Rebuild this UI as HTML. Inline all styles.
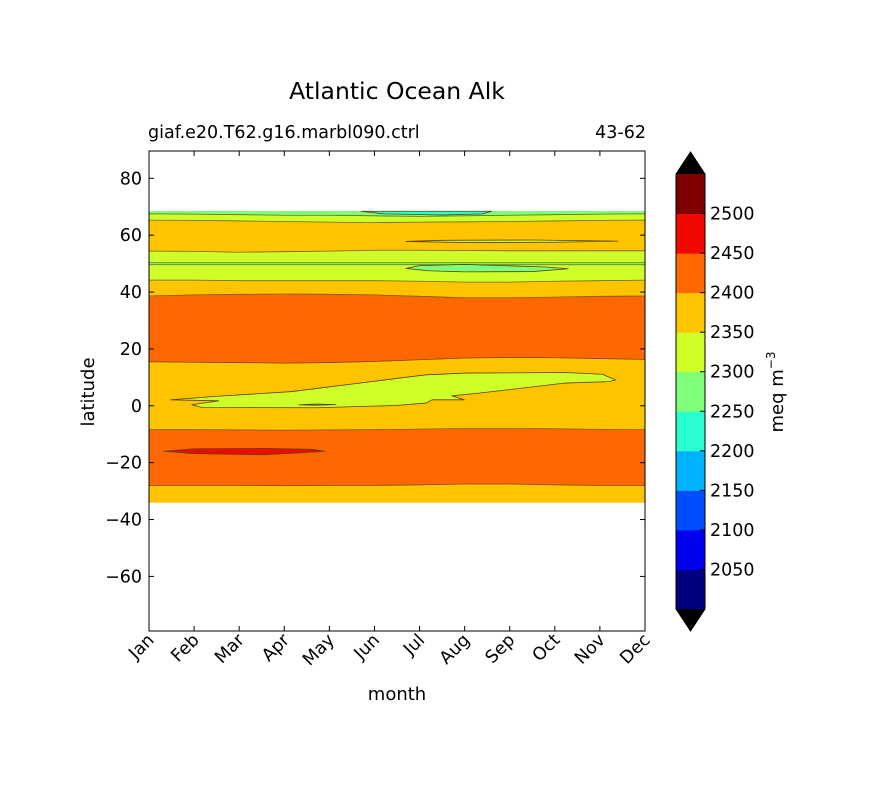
<!DOCTYPE html>
<html><head><meta charset="utf-8"><style>
body{margin:0;background:#fff;}
svg text{font-family:"DejaVu Sans","Liberation Sans",sans-serif;fill:#000;}
</style></head><body>
<svg id="chart" width="870" height="783" xmlns="http://www.w3.org/2000/svg">
<rect width="870" height="783" fill="#fff"/>
<text x="397" y="99" font-size="23.5" text-anchor="middle">Atlantic Ocean Alk</text>
<text x="148" y="138" font-size="17.5">giaf.e20.T62.g16.marbl090.ctrl</text>
<text x="646" y="138" font-size="17.5" text-anchor="end">43-62</text>
<g id="plot"></g>
<g id="axes"></g>
<g id="cbar"></g>
<text x="397" y="700" font-size="18" text-anchor="middle">month</text>
<text transform="translate(94,392) rotate(-90)" font-size="18" text-anchor="middle">latitude</text>
<text transform="translate(783,392) rotate(-90)" font-size="18" text-anchor="middle">meq m<tspan font-size="12" dy="-8">−3</tspan></text>
</svg>
<script>
const months=["Jan","Feb","Mar","Apr","May","Jun","Jul","Aug","Sep","Oct","Nov","Dec"];
const latTicks=[-60,-40,-20,0,20,40,60,80];
const levels=[2000,2050,2100,2150,2200,2250,2300,2350,2400,2450,2500,2550];
const levelColors=["#00007f","#0000f1","#004dff","#00b1ff","#29ffce","#7dff7a","#ceff29","#ffc400","#ff6800","#f10800","#7f0000"];
const bSouth=[-34,-34,-34,-34,-34,-34,-34,-34,-34,-34,-34,-34];
const b2=[-28,-28,-28,-28.1,-28,-28,-27.8,-27.5,-27.5,-27.8,-28,-28];
const b3=[-8.4,-8.4,-8.5,-8.6,-8.5,-8.4,-8.2,-8,-8,-8.1,-8.3,-8.4];
const b4=[15.5,15.3,15.2,15,15.2,15.6,16.2,16.8,17,16.9,16.6,16.3];
const b5=[38.6,39,39.2,39.3,39.2,39,38.5,38,38,38.2,38.5,38.6];
const b6=[44.2,44.2,44,44,44,44,43.8,43.5,43.5,43.8,44,44.2];
const b7=[49.6,49.6,49.6,49.6,49.6,49.6,49.6,49.6,49.6,49.6,49.6,49.6];
const b8=[50.3,50.3,50.3,50.3,50.3,50.3,50.3,50.3,50.3,50.3,50.3,50.3];
const b9=[54.4,54.3,54,54.2,54.4,54.7,54.7,54.6,54.5,54.5,54.5,54.5];
const b10=[65.3,65.2,65,64.8,64.6,64.4,64.6,64.7,64.8,65,65.2,65.3];
const b11=[67.5,67.4,67.2,67,67,66.8,66.6,66.8,67,67.2,67.4,67.5];
const bNorth=[68.4,68.4,68.4,68.4,68.4,68.4,68.4,68.4,68.4,68.4,68.4,68.4];
const bandEdges=[bSouth,b2,b3,b4,b5,b6,b7,b8,b9,b10,b11,bNorth];
const bandLevels=[7,8,7,8,7,6,5,6,7,6,5];
const limeBlobM=[0.48,1.55,0.95,1.18,3.7,5.47,6.14,6.28,6.99,6.72,7.32,9.24,10.2,10.35,10.05,9.24,7.02,6.14,3.17,1.48];
const limeBlobL=[2.1,1.75,0.35,-0.6,-0.7,0.1,0.95,2.1,2.1,3.5,4.45,8,8.5,9.1,11.1,11.7,11.5,10.9,5,3.3];
const redBlobM=[0.33,1,2.5,3.6,3.9,3.3,2.5,1];
const redBlobL=[-16,-15.1,-15,-15.3,-16,-16.6,-17.2,-16.8];
const greenLensM=[3.33,3.7,4.15,3.7];
const greenLensL=[0.35,0.6,0.4,0.2];
const green48M=[5.7,6.2,7,8.5,9.3,8.8,7,6];
const green48L=[48.3,47.5,47.1,47.2,48.2,48.8,49.7,49.3];
const lime58M=[5.7,6.5,8.5,10.4,9,7];
const lime58L=[57.8,58.2,58.3,57.9,57.5,57.4];
const cyanM=[4.7,5.2,6.5,7.4,7.6];
const cyanL=[68.4,67.5,67.1,67.5,68.4];
const blobs=[[limeBlobM,limeBlobL,6],[redBlobM,redBlobL,9],[greenLensM,greenLensL,5],[green48M,green48L,5],[lime58M,lime58L,6],[cyanM,cyanL,4]];

const X0=149,X1=645,Y0=151,Y1=631,LATMIN=-79.2,LATMAX=89.6;
const xs=m=>X0+m*(X1-X0)/11;
const ys=l=>Y1-(l-LATMIN)*(Y1-Y0)/(LATMAX-LATMIN);
const NS="http://www.w3.org/2000/svg";
function mk(t,a,p){const e=document.createElementNS(NS,t);for(const k in a)e.setAttribute(k,a[k]);p.appendChild(e);return e;}
const plot=document.getElementById('plot');
bandLevels.forEach((lv,i)=>{
  const lo=bandEdges[i],hi=bandEdges[i+1];
  let pts=[];
  for(let m=0;m<12;m++)pts.push(xs(m)+','+ys(lo[m]));
  for(let m=11;m>=0;m--)pts.push(xs(m)+','+ys(hi[m]));
  const p=mk('polygon',{points:pts.join(' '),fill:levelColors[lv],stroke:levelColors[lv],'stroke-width':0.6},plot);
  
  
});
bandEdges.forEach((e,i)=>{
  if(i===0||i===bandEdges.length-1)return;
  let pts=[];for(let m=0;m<12;m++)pts.push(xs(m)+','+ys(e[m]));
  const l=mk('polyline',{points:pts.join(' '),fill:'none',stroke:'#5a4000','stroke-width':0.8,'stroke-opacity':0.8},plot);
  
  
});
blobs.forEach((b,i)=>{
  const pts=b[0].map((m,j)=>xs(m)+','+ys(b[1][j])).join(' ');
  const p=mk('polygon',{points:pts,fill:levelColors[b[2]],stroke:'#5a4000','stroke-width':0.8,'stroke-linejoin':'round'},plot);
  
  
});
const axes=document.getElementById('axes');
const fr=mk('rect',{x:X0,y:Y0,width:X1-X0,height:Y1-Y0,fill:'none',stroke:'#000','stroke-width':1},axes);


latTicks.forEach(t=>{
  const y=ys(t);
  mk('line',{x1:X0,x2:X0+5,y1:y,y2:y,stroke:'#000'},axes);
  mk('line',{x1:X1,x2:X1-5,y1:y,y2:y,stroke:'#000'},axes);
  const tx=mk('text',{x:X0-7,y:y+6,'font-size':17.5,'text-anchor':'end'},axes);
  tx.textContent=(t<0?'−':'')+Math.abs(t);
  
  
});
months.forEach((mo,m)=>{
  const x=xs(m);
  mk('line',{x1:x,x2:x,y1:Y1,y2:Y1-5,stroke:'#000'},axes);
  mk('line',{x1:x,x2:x,y1:Y0,y2:Y0+5,stroke:'#000'},axes);
  const tx=mk('text',{transform:`translate(${x+6},${Y1+10}) rotate(-45)`,'font-size':17.5,'text-anchor':'end'},axes);
  tx.textContent=mo;
  
  
});
const cb=document.getElementById('cbar');
const CX=676,CW=29,CT=174,CB=609;
const cy=v=>CB-(v-levels[0])*(CB-CT)/(levels[levels.length-1]-levels[0]);
levelColors.forEach((c,i)=>{
  const r=mk('rect',{x:CX,y:cy(levels[i+1]),width:CW,height:cy(levels[i])-cy(levels[i+1])+0.5,fill:c},cb);
  
  
});
const tu=mk('polygon',{points:`${CX},${CT} ${CX+CW},${CT} ${CX+CW/2},${152}`,fill:'#000'},cb);


const td=mk('polygon',{points:`${CX},${CB} ${CX+CW},${CB} ${CX+CW/2},${631}`,fill:'#000'},cb);


mk('polygon',{points:`${CX+CW/2},152 ${CX+CW},${CT} ${CX+CW},${CB} ${CX+CW/2},631 ${CX},${CB} ${CX},${CT}`,fill:'none',stroke:'#000'},cb);
levels.forEach(v=>{
  if(v===2000||v===2550)return;
  const y=cy(v);
  mk('line',{x1:CX+CW-5,x2:CX+CW,y1:y,y2:y,stroke:'#000'},cb);
  const tx=mk('text',{x:CX+CW+5,y:y+6,'font-size':17.5},cb);
  tx.textContent=v;
  
  
});
</script>
</body></html>
